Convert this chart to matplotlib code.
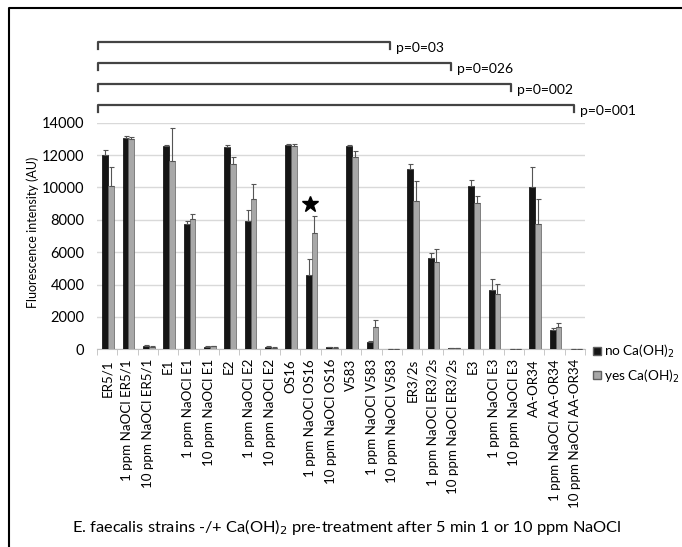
from matplotlib import pyplot as plt
from matplotlib.patches import Patch
from matplotlib.lines import Line2D
import matplotlib.transforms as mtransforms
import numpy as np

plt.rcParams['font.family'] = ['Lato', 'DejaVu Sans']

strains = ['ER5/1', 'E1', 'E2', 'OS16', 'V583', 'ER3/2s', 'E3', 'AA-OR34']
labels = []
for s in strains:
    labels += [s, '1 ppm NaOCl ' + s, '10 ppm NaOCl ' + s]

no_ca = [12000, 13070, 200, 12580, 7720, 150, 12520, 7950, 150, 12620, 4590, 130,
         12560, 430, 20, 11120, 5660, 80, 10070, 3660, 40, 10050, 1190, 10]
yes_ca = [10080, 12990, 150, 11610, 8030, 200, 11450, 9300, 100, 12540, 7160, 100,
          11900, 1400, 20, 9160, 5370, 80, 9020, 3400, 20, 7740, 1380, 10]
no_err = [300, 130, 50, 70, 230, 30, 80, 650, 30, 60, 990, 20,
          60, 60, 0, 310, 320, 20, 370, 670, 10, 1220, 150, 0]
yes_err = [1200, 110, 30, 2040, 300, 20, 400, 900, 20, 140, 1090, 20,
           360, 440, 0, 1230, 800, 20, 440, 630, 10, 1560, 260, 0]

# significance brackets: right end (category position) and p label
bracket_ends = [13.9, 16.9, 19.85, 22.95]
bracket_text = ['p=0=03', 'p=0=026', 'p=0=002', 'p=0=001']
bracket_levels = [1.356, 1.263, 1.171, 1.078]

fig = plt.figure(figsize=(6.82, 5.47), dpi=100)
ax = fig.add_axes([0.1422, 0.3614, 0.7156, 0.4143])

x = np.arange(len(labels))
w = 0.29
ax.bar(x - w / 2 + 0.05, no_ca, w, color='#151515', edgecolor='#000000', linewidth=0.5,
       yerr=[np.zeros(len(no_err)), no_err], ecolor='#555555',
       error_kw=dict(elinewidth=0.8, capsize=1.8, capthick=0.8), zorder=3)
ax.bar(x + w / 2 + 0.05, yes_ca, w, color='#a8a8a8', edgecolor='#606060', linewidth=0.5,
       yerr=[np.zeros(len(yes_err)), yes_err], ecolor='#555555',
       error_kw=dict(elinewidth=0.8, capsize=1.8, capthick=0.8), zorder=3)

ax.set_xlim(-0.5, len(labels) - 0.5)
ax.set_ylim(0, 14000)
ax.set_yticks(range(0, 14001, 2000))
ax.tick_params(axis='y', length=0, pad=9, labelsize=10.5)
ax.set_xticks(x)
ax.set_xticklabels(labels, rotation=90, fontsize=9.6)
ax.set_xticks(np.arange(-0.5, len(labels), 1), minor=True)
ax.tick_params(axis='x', which='major', length=0, pad=7)
ax.tick_params(axis='x', which='minor', length=4, color='#bfbfbf')
ax.yaxis.grid(True, color='#d9d9d9', linewidth=1)
ax.set_axisbelow(True)
for side in ['left', 'right', 'top']:
    ax.spines[side].set_visible(False)
ax.spines['bottom'].set_color('#bfbfbf')

# star over 1 ppm NaOCl OS16
ax.plot(10, 9000, marker='*', color='black', markersize=12, zorder=4)

# brackets above the plot
trans = mtransforms.blended_transform_factory(ax.transData, ax.transAxes)
for end, txt, lev in zip(bracket_ends, bracket_text, bracket_levels):
    ax.plot([-0.45, -0.45, end, end], [lev - 0.03, lev, lev, lev - 0.03],
            color='#444444', linewidth=1.6, transform=trans, clip_on=False)
    ax.text(end + 0.3, lev - 0.025, txt, transform=trans, fontsize=10,
            va='center', ha='left')

fig.text(33 / 682, 1 - 232 / 547, 'Fluorescence intensity (AU)', rotation=90,
         ha='center', va='center', fontsize=9)
fig.text(347 / 682, 1 - 527 / 547,
         'E. faecalis strains -/+ Ca(OH)$_2$ pre-treatment after 5 min 1 or 10 ppm NaOCl',
         ha='center', va='center', fontsize=11.8)

handles = [Patch(facecolor='#151515', edgecolor='#606060', label='no Ca(OH)$_2$'),
           Patch(facecolor='#a8a8a8', edgecolor='#606060', label='yes Ca(OH)$_2$')]
fig.legend(handles=handles, loc='center left', bbox_to_anchor=(0.862, 0.335),
           frameon=False, fontsize=9.8, handlelength=0.55, handleheight=0.55,
           handletextpad=0.2, labelspacing=0.5, borderaxespad=0)

# outer frame (left and top edges only)
fig.add_artist(Line2D([9 / 682, 9 / 682, 1], [0, 1 - 8 / 547, 1 - 8 / 547],
                      color='black', linewidth=1.5, transform=fig.transFigure))

fig.savefig('out.png', dpi=100)
